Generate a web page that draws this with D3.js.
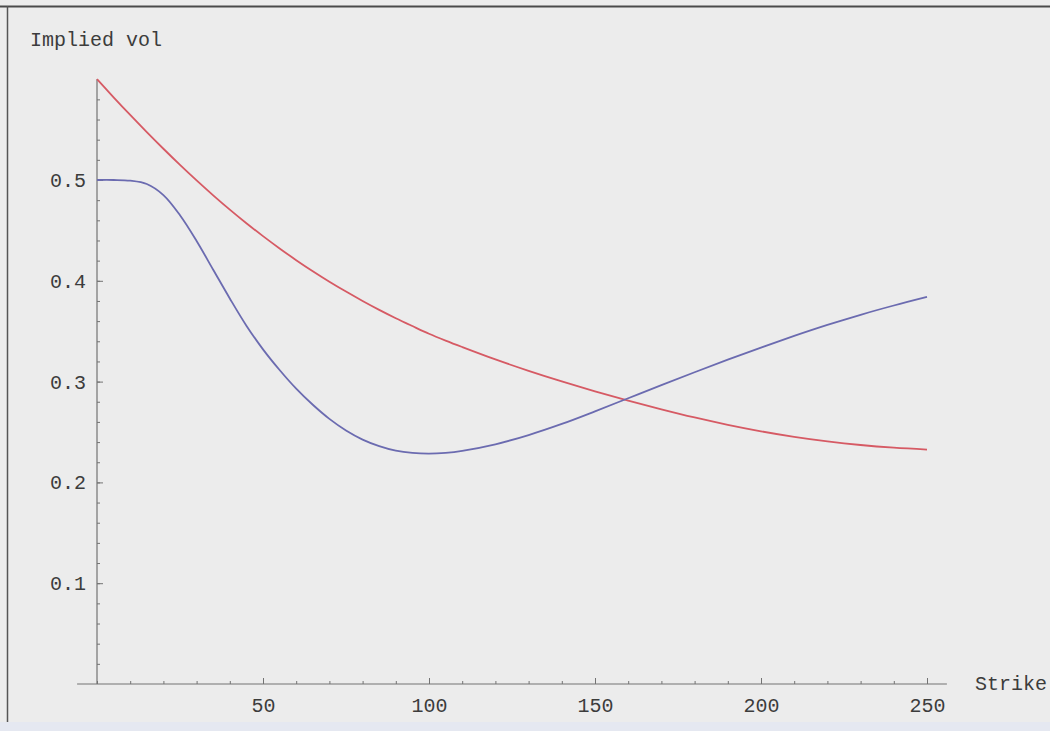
<!DOCTYPE html>
<html>
<head>
<meta charset="utf-8">
<script src="https://cdn.jsdelivr.net/npm/d3@7"></script>
<style>
  html, body { margin: 0; padding: 0; background: #ececec; }
  svg { display: block; }
  text { font-family: "Liberation Mono", "DejaVu Sans Mono", monospace; }
</style>
</head>
<body>
<svg id="chart" width="1050" height="731"></svg>
<script>
// Strike grid and the two implied-volatility smiles
const strikes = [0, 5, 10, 15, 20, 25, 30, 35, 40, 45, 50, 55, 60, 65, 70, 75, 80, 85, 90, 95,
                 100, 105, 110, 120, 130, 140, 150, 160, 170, 180, 190, 200, 210, 220, 230, 240, 250];
const volRed = [0.600, 0.582, 0.5645, 0.5475, 0.531, 0.515, 0.4996, 0.4848, 0.4706, 0.4571, 0.4443, 0.4321, 0.4205, 0.4095, 0.3991, 0.3893, 0.3800, 0.3712, 0.3629, 0.3551,
                0.3475, 0.3407, 0.3343, 0.3220, 0.3107, 0.3002, 0.2904, 0.2812, 0.2725, 0.2644, 0.2571, 0.2507, 0.2452, 0.2407, 0.2371, 0.2344, 0.2325];
const volBlue = [0.500, 0.500, 0.4993, 0.4960, 0.4850, 0.4650, 0.4395, 0.4110, 0.3825, 0.3555, 0.3320, 0.3115, 0.2930, 0.2770, 0.2630, 0.2515, 0.2425, 0.2360, 0.2315, 0.2292,
                 0.2285, 0.2293, 0.2313, 0.2378, 0.2470, 0.2580, 0.2705, 0.2835, 0.2965, 0.3093, 0.3218, 0.3338, 0.3453, 0.3562, 0.3663, 0.3755, 0.3840];

// Axis ticks and extents
const xMajorTicks = [50, 100, 150, 200, 250];
const xMinorTicks = d3.range(0, 251, 10);
const yMajorTicks = [0.1, 0.2, 0.3, 0.4, 0.5];
const yMinorTicks = d3.range(0.02, 0.6, 0.02);
const xAxisExtent = [-6, 256];
const yAxisExtent = [0, 0.6];
const xTitle = "Strike";
const yTitle = "Implied vol";

const svg = d3.select("#chart");

// page frame
svg.append("rect").attr("x", 0).attr("y", 722).attr("width", 1050).attr("height", 9).attr("fill", "#e5e8f1");
svg.append("line").attr("x1", 0).attr("x2", 1050).attr("y1", 6.5).attr("y2", 6.5)
  .attr("stroke", "#4a4a4a").attr("stroke-width", 2);
svg.append("line").attr("x1", 7.5).attr("x2", 7.5).attr("y1", 6).attr("y2", 722)
  .attr("stroke", "#555").attr("stroke-width", 1.5);

const x = d3.scaleLinear().domain([0, 250]).range([97, 927]);
const y = d3.scaleLinear().domain([0, 0.5]).range([684, 180]);

const axisColor = "#737373";
const textColor = "#3c3c3c";

// x axis: minor and major ticks point up into the plot
const gx = svg.append("g").attr("transform", `translate(0,${y(0)})`);
gx.append("line").attr("x1", x(xAxisExtent[0])).attr("x2", x(xAxisExtent[1]))
  .attr("stroke", axisColor).attr("stroke-width", 1.2);
gx.append("g").call(d3.axisBottom(x).tickValues(xMinorTicks).tickSize(-3).tickFormat(""))
  .call(g => g.select(".domain").remove());
gx.append("g").call(d3.axisBottom(x).tickValues(xMajorTicks).tickSize(-6).tickPadding(14).tickFormat(d3.format("d")))
  .call(g => g.select(".domain").remove());

// y axis: ticks point right into the plot
const gy = svg.append("g").attr("transform", `translate(${x(0)},0)`);
gy.append("line").attr("y1", y(yAxisExtent[0])).attr("y2", y(yAxisExtent[1]))
  .attr("stroke", axisColor).attr("stroke-width", 1.2);
gy.append("g").call(d3.axisLeft(y).tickValues(yMinorTicks).tickSize(-3).tickFormat(""))
  .call(g => g.select(".domain").remove());
gy.append("g").call(d3.axisLeft(y).tickValues(yMajorTicks).tickSize(-6).tickPadding(11).tickFormat(d3.format(".1f")))
  .call(g => g.select(".domain").remove());

svg.selectAll(".tick line").attr("stroke", axisColor);
svg.selectAll(".tick text").attr("fill", textColor).style("font-size", "20px")
  .style("font-family", '"Liberation Mono", monospace');

// axis titles
svg.append("text").attr("x", 30).attr("y", 46).attr("fill", textColor)
  .style("font-size", "20px").text(yTitle);
svg.append("text").attr("x", 975).attr("y", y(0)).attr("dy", "0.32em").attr("fill", textColor)
  .style("font-size", "20px").text(xTitle);

// curves, smoothed through the sampled strikes
const line = (vals) => d3.line()
  .x((d, i) => x(strikes[i]))
  .y(d => y(d))
  .curve(d3.curveCatmullRom.alpha(0.5))(vals);

svg.append("path").attr("d", line(volRed)).attr("fill", "none")
  .attr("stroke", "#d65a64").attr("stroke-width", 1.8);
svg.append("path").attr("d", line(volBlue)).attr("fill", "none")
  .attr("stroke", "#6b6bb0").attr("stroke-width", 1.8);
</script>
</body>
</html>
